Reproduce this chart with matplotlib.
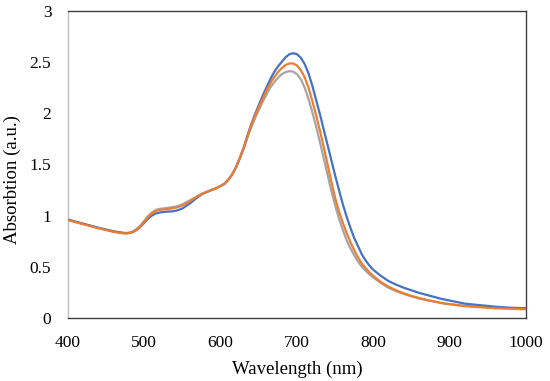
import matplotlib
matplotlib.use('Agg')
import matplotlib.pyplot as plt
from matplotlib.ticker import FuncFormatter

# wavelength (nm)
wl = ([400, 420, 440, 460, 470, 475] + list(range(480, 805, 5))
      + list(range(810, 910, 10)) + list(range(920, 1020, 20)))

abs_blue = [0.96, 0.92, 0.88, 0.845, 0.832, 0.828,
            0.83, 0.84, 0.86, 0.89, 0.93,
            0.97, 1.00, 1.02, 1.03, 1.035,
            1.038, 1.04, 1.045, 1.055, 1.07,
            1.095, 1.12, 1.15, 1.18, 1.205,
            1.225, 1.24, 1.255, 1.27, 1.29,
            1.31, 1.35, 1.40, 1.47, 1.56,
            1.66, 1.78, 1.89, 1.99, 2.08,
            2.17, 2.25, 2.33, 2.40, 2.455,
            2.50, 2.545, 2.575, 2.585, 2.575,
            2.54, 2.48, 2.39, 2.27, 2.13,
            1.99, 1.84, 1.69, 1.54, 1.39,
            1.25, 1.11, 0.99, 0.88, 0.78,
            0.70, 0.62, 0.56, 0.51, 0.47,
            0.41, 0.36, 0.325, 0.295, 0.27, 0.245, 0.225, 0.205, 0.185, 0.17,
            0.14, 0.125, 0.11, 0.10, 0.095]

abs_orange = [0.955, 0.915, 0.875, 0.84, 0.828, 0.825,
              0.828, 0.84, 0.86, 0.895, 0.94,
              0.985, 1.02, 1.045, 1.055, 1.06,
              1.063, 1.068, 1.075, 1.085, 1.10,
              1.12, 1.14, 1.165, 1.19, 1.21,
              1.225, 1.24, 1.255, 1.27, 1.29,
              1.31, 1.35, 1.40, 1.47, 1.56,
              1.66, 1.77, 1.88, 1.975, 2.06,
              2.14, 2.22, 2.29, 2.35, 2.40,
              2.44, 2.47, 2.485, 2.485, 2.465,
              2.42, 2.35, 2.25, 2.12, 1.98,
              1.83, 1.67, 1.50, 1.33, 1.17,
              1.04, 0.93, 0.83, 0.74, 0.66,
              0.59, 0.53, 0.485, 0.445, 0.41,
              0.35, 0.305, 0.27, 0.24, 0.215, 0.195, 0.175, 0.16, 0.145, 0.135,
              0.115, 0.105, 0.095, 0.09, 0.085]

abs_gray = [0.96, 0.92, 0.88, 0.845, 0.835, 0.83,
            0.832, 0.845, 0.87, 0.905, 0.95,
            0.995, 1.03, 1.055, 1.065, 1.07,
            1.075, 1.08, 1.085, 1.095, 1.11,
            1.13, 1.15, 1.17, 1.19, 1.21,
            1.225, 1.24, 1.255, 1.27, 1.29,
            1.31, 1.35, 1.40, 1.47, 1.555,
            1.65, 1.76, 1.86, 1.95, 2.03,
            2.11, 2.18, 2.25, 2.30, 2.345,
            2.38, 2.40, 2.41, 2.405, 2.38,
            2.33, 2.25, 2.14, 2.01, 1.87,
            1.72, 1.56, 1.40, 1.24, 1.10,
            0.97, 0.86, 0.76, 0.68, 0.61,
            0.55, 0.50, 0.46, 0.425, 0.395,
            0.34, 0.295, 0.26, 0.235, 0.21, 0.19, 0.175, 0.16, 0.145, 0.135,
            0.12, 0.11, 0.10, 0.095, 0.09]

x_ticks = [400, 500, 600, 700, 800, 900, 1000]
y_ticks = [0, 0.5, 1, 1.5, 2, 2.5, 3]

plt.rcParams['font.family'] = ['Liberation Serif', 'DejaVu Serif']

fig = plt.figure(figsize=(5.5, 3.81), dpi=100)
ax = fig.add_axes([0.1236, 0.1654, 0.8328, 0.8065])

kw = dict(lw=1.6, solid_joinstyle='round', solid_capstyle='round')
ax.plot(wl, abs_gray, color='#A5A5A5', zorder=2, **kw)
ax.plot(wl, abs_blue, color='#4472C4', zorder=3, **kw)
ax.plot(wl, abs_orange, color='#ED7D31', zorder=4, **kw)

ax.set_xlim(400, 1000)
ax.set_ylim(0, 3)
ax.set_xticks(x_ticks)
ax.set_yticks(y_ticks)
ax.yaxis.set_major_formatter(FuncFormatter(lambda v, p: '%g' % v))
ax.tick_params(length=0, labelsize=12.5)
ax.tick_params(axis='x', pad=12)
ax.tick_params(axis='y', pad=12)

for s in ['top', 'right', 'bottom']:
    ax.spines[s].set_color('#404040')
    ax.spines[s].set_linewidth(1.0)
ax.spines['left'].set_color('#BFBFBF')
ax.spines['left'].set_linewidth(1.0)

ax.set_xlabel('Wavelength (nm)', fontsize=13.5, labelpad=7)
ax.set_ylabel('Absorbtion (a.u.)', fontsize=13.5)
ax.yaxis.set_label_coords(-0.102, 0.45)

plt.savefig('out.png', dpi=100)
